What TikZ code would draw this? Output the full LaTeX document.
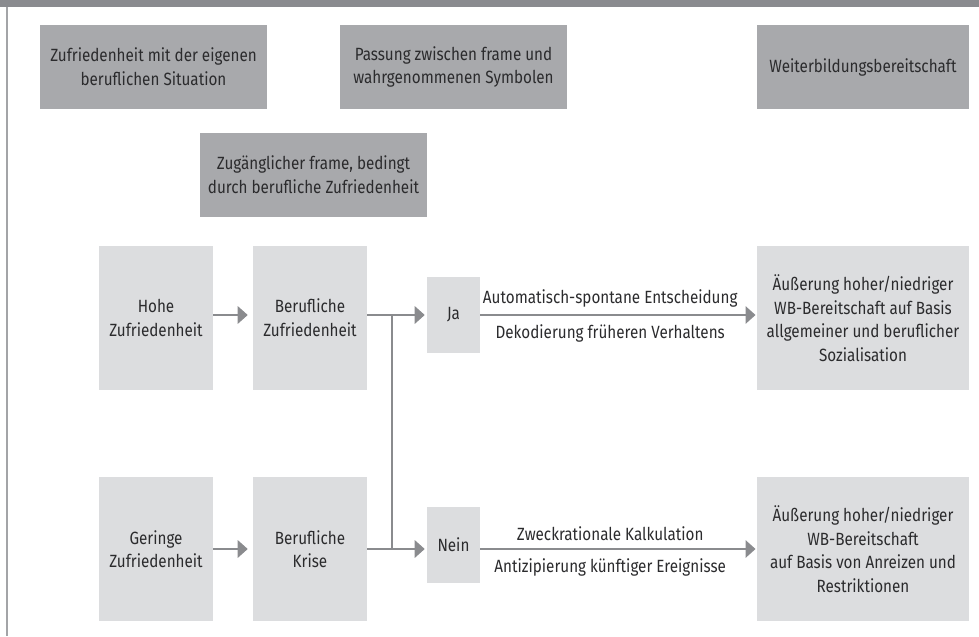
\documentclass[tikz,border=0pt]{standalone}
\usepackage{fontspec}
\setmainfont{Fira Sans}[FakeStretch=0.86]
\usetikzlibrary{arrows.meta, positioning, calc}
\definecolor{CBar}{HTML}{8A8B8F}
\definecolor{CFrame}{HTML}{A3A4A7}
\definecolor{CDark}{HTML}{A8A9AC}
\definecolor{CLight}{HTML}{DCDDDF}
\definecolor{CLine}{HTML}{8A8B8E}
\definecolor{CText}{HTML}{2B2B2D}

\begin{document}
\begin{tikzpicture}[
    txt/.style={font=\fontsize{12.6}{16.8}\selectfont, text=CText, align=center},
    darkbox/.style={txt, fill=CDark, inner sep=0pt, minimum width=5.675cm, minimum height=2.1cm},
    lightbox/.style={txt, fill=CLight, inner sep=0pt, minimum width=2.85cm, minimum height=3.6cm},
    smallbox/.style={txt, fill=CLight, inner sep=0pt, minimum width=1.325cm, minimum height=1.9cm},
    resultbox/.style={txt, fill=CLight, inner sep=0pt, minimum width=5.3cm, minimum height=3.6cm},
    flow/.style={CLine, line width=0.9pt, -{Triangle[length=0.25cm, width=0.44cm]}},
    lbl/.style={txt, inner sep=0pt}
]
    \useasboundingbox (0,0) rectangle (24.475,-15.9);

    % --- 1. FRAME ---
    \fill[CBar] (0,0) rectangle (24.475,-0.17);
    \draw[CFrame, line width=1.2pt] (0.167,-0.17) -- (0.167,-15.9);

    % --- 2. UPPER ROW (dark) ---
    \node[darkbox] (zufr) at (3.8375,-1.675) {Zufriedenheit mit der eigenen\\beruflichen Situation};
    \node[darkbox] (passung) at (11.3375,-1.675) {Passung zwischen frame und\\wahrgenommenen Symbolen};
    \node[darkbox, minimum width=5.3cm] (wbb) at (21.575,-1.675) {Weiterbildungsbereitschaft};
    \node[darkbox] (frame) at (7.8375,-4.375) {Zugänglicher frame, bedingt\\durch berufliche Zufriedenheit};

    % --- 3. HIGH SATISFACTION PATH ---
    \node[lightbox] (hohe) at (3.9,-7.95) {Hohe\\Zufriedenheit};
    \node[lightbox] (berufz) at (7.75,-7.95) {Berufliche\\Zufriedenheit};
    \node[smallbox] (ja) at (11.3375,-7.875) {Ja};
    \node[resultbox] (aeussA) at (21.575,-7.95) {Äußerung hoher/niedriger\\WB-Bereitschaft auf Basis\\allgemeiner und beruflicher\\Sozialisation};

    % --- 4. LOW SATISFACTION PATH ---
    \node[lightbox] (geringe) at (3.9,-13.725) {Geringe\\Zufriedenheit};
    \node[lightbox] (krise) at (7.75,-13.725) {Berufliche\\Krise};
    \node[smallbox] (nein) at (11.3375,-13.625) {Nein};
    \node[resultbox] (aeussB) at (21.575,-13.725) {Äußerung hoher/niedriger\\WB-Bereitschaft\\auf Basis von Anreizen und\\Restriktionen};

    % --- 5. CONNECTORS ---
    \coordinate (split) at (9.8,-7.875);

    \draw[flow, shorten >=0.125cm] (hohe.east |- ja) -- (berufz.west |- ja);
    \draw[flow, shorten >=0.05cm] (berufz.east |- ja) -- (ja.west);
    \draw[flow, shorten >=0.03cm] (ja.east) -- (aeussA.west |- ja)
        node[lbl, pos=0.47, above=0.18cm] {Automatisch-spontane Entscheidung}
        node[lbl, pos=0.47, below=0.22cm] {Dekodierung früheren Verhaltens};

    \draw[flow, shorten >=0.125cm] (geringe.east) -- (krise.west);
    \draw[flow, shorten >=0.05cm] (krise.east) -- (nein.west |- krise);
    \draw[flow, shorten >=0.03cm] (nein.east |- krise) -- (aeussB.west)
        node[lbl, pos=0.47, above=0.18cm] {Zweckrationale Kalkulation}
        node[lbl, pos=0.47, below=0.22cm] {Antizipierung künftiger Ereignisse};

    \draw[CLine, line width=0.9pt] (split) -- (split |- krise);

\end{tikzpicture}
\end{document}
